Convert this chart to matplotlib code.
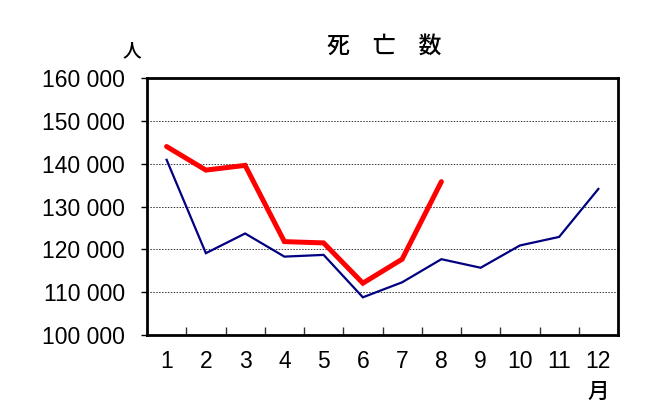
import matplotlib
matplotlib.use("Agg")
import matplotlib.pyplot as plt
from matplotlib.ticker import FuncFormatter, FixedLocator

plt.rcParams['font.family'] = ['Liberation Sans', 'Noto Sans CJK JP', 'DejaVu Sans']

# months and monthly deaths
months = [1, 2, 3, 4, 5, 6, 7, 8, 9, 10, 11, 12]
prev_year = [140900, 119100, 123700, 118300, 118700, 108800,
             112300, 117700, 115700, 120900, 122900, 134100]
cur_months = [1, 2, 3, 4, 5, 6, 7, 8]
cur_year = [144000, 138500, 139600, 121800, 121500, 112100, 117700, 135800]

fig = plt.figure(figsize=(6.64, 4.16), dpi=100)
ax = fig.add_axes([147 / 664, 1 - 335 / 416, 471 / 664, 257 / 416])

ax.plot(months, prev_year, color='#000080', lw=1.6, solid_joinstyle='miter')
ax.plot(cur_months, cur_year, color='#ff0000', lw=3.6, solid_capstyle='round',
        solid_joinstyle='miter')

ax.set_xlim(0.5, 12.5)
ax.set_ylim(100000, 160000)
ax.set_yticks(range(100000, 160001, 10000))
ax.yaxis.set_major_formatter(FuncFormatter(lambda v, p: f"{int(v):,}".replace(',', ' ')))
ax.set_xticks(months)
ax.xaxis.set_minor_locator(FixedLocator([m + 0.5 for m in months[:-1]]))

ax.tick_params(axis='x', which='major', length=0, pad=11, labelsize=16.5)
ax.tick_params(axis='x', which='minor', direction='in', length=6, width=1, color='#333333')
ax.tick_params(axis='y', which='major', direction='out', length=4, width=1, pad=12, labelsize=16.5)

ax.grid(axis='y', linestyle=(0, (1.5, 1.5)), color='#333333', lw=0.7)
for s in ax.spines.values():
    s.set_linewidth(2)
    s.set_color('black')

fig.text(384 / 664, 1 - 46 / 416, '死　亡　数', ha='center', va='center', fontsize=16.5,
         fontweight='medium', family=['Noto Sans CJK JP'])
fig.text(132 / 664, 1 - 51 / 416, '人', ha='center', va='center', fontsize=13.5,
         fontweight='medium', family=['Noto Sans CJK JP'])
fig.text(598 / 664, 1 - 392 / 416, '月', ha='center', va='center', fontsize=15.5,
         fontweight='medium', family=['Noto Sans CJK JP'])

fig.savefig('out.png', dpi=100)
